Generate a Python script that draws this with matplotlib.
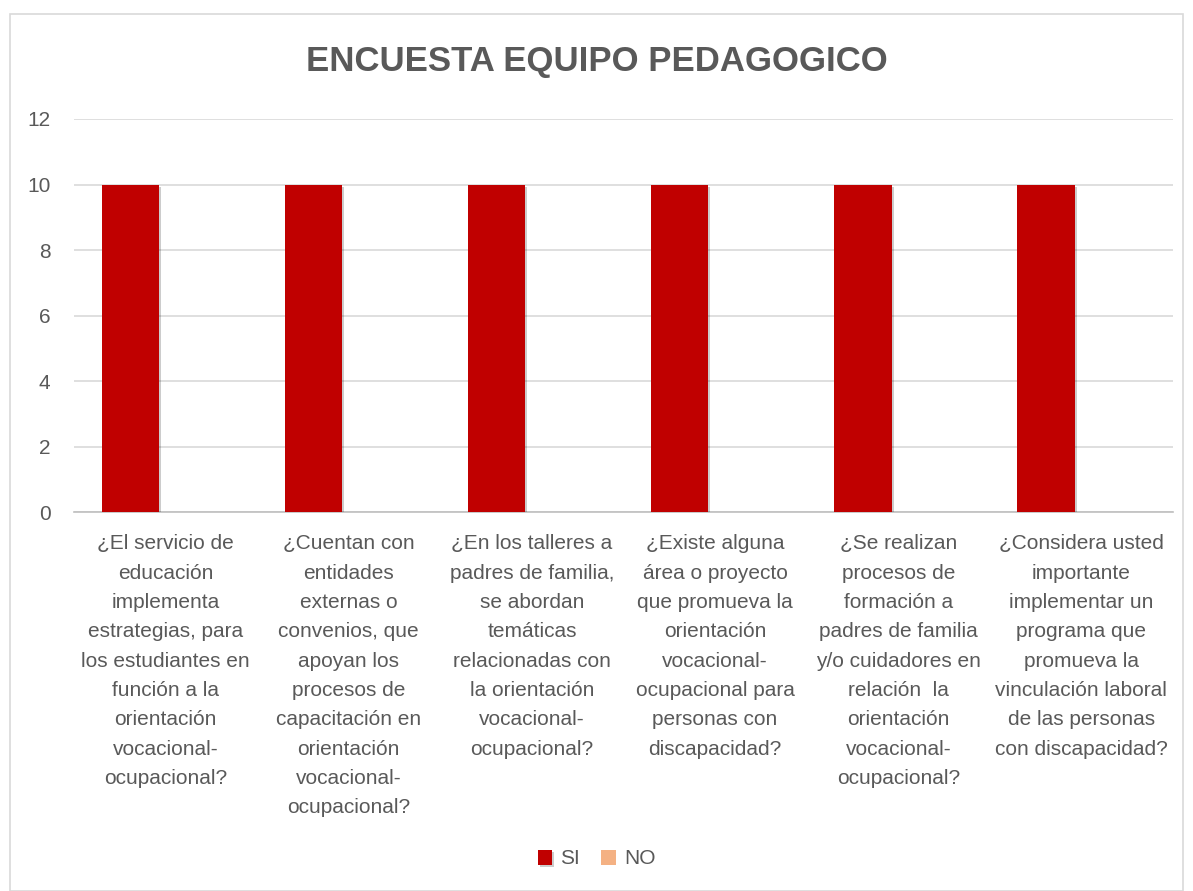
import numpy as np
import matplotlib
matplotlib.use('Agg')
from matplotlib import pyplot as plt
from matplotlib import patches
from matplotlib import patheffects as pe

plt.rcParams['font.family'] = ['Liberation Sans', 'DejaVu Sans']

#chart data
categories = [
	'¿El servicio de\neducación\nimplementa\nestrategias, para\nlos estudiantes en\nfunción a la\norientación\nvocacional-\nocupacional?',
	'¿Cuentan con\nentidades\nexternas o\nconvenios, que\napoyan los\nprocesos de\ncapacitación en\norientación\nvocacional-\nocupacional?',
	'¿En los talleres a\npadres de familia,\nse abordan\ntemáticas\nrelacionadas con\nla orientación\nvocacional-\nocupacional?',
	'¿Existe alguna\nárea o proyecto\nque promueva la\norientación\nvocacional-\nocupacional para\npersonas con\ndiscapacidad?',
	'¿Se realizan\nprocesos de\nformación a\npadres de familia\ny/o cuidadores en\nrelación  la\norientación\nvocacional-\nocupacional?',
	'¿Considera usted\nimportante\nimplementar un\nprograma que\npromueva la\nvinculación laboral\nde las personas\ncon discapacidad?',
]
si_values = [10, 10, 10, 10, 10, 10]
no_values = [0, 0, 0, 0, 0, 0]

gray = '#595959'
fig = plt.figure(figsize=(11.93, 8.91), dpi=100)
ax = fig.add_axes([74/1193, 1-512/891, (1173-74)/1193, (512-119)/891])

x = np.arange(len(categories))
w = 0.313
shadow = [pe.SimplePatchShadow(offset=(1.5, -1.5), shadow_rgbFace='#000000', alpha=0.2), pe.Normal()]
b1 = ax.bar(x - 0.193, si_values, w, color='#C00000', label='SI', zorder=3)
b2 = ax.bar(x - 0.193 + w, no_values, w, color='#F4B183', label='NO', zorder=3)
for b in b1:
	b.set_path_effects(shadow)

ax.set_xlim(-0.5, len(categories) - 0.5)
ax.set_ylim(0, 12)
ax.set_yticks([0, 2, 4, 6, 8, 10, 12])
ax.yaxis.grid(True, color='#D9D9D9', linewidth=1.2, zorder=0)
ax.set_axisbelow(True)
for s in ['top', 'right', 'left']:
	ax.spines[s].set_visible(False)
ax.spines['bottom'].set_color('#BFBFBF')
ax.spines['bottom'].set_linewidth(1.2)
ax.tick_params(axis='both', length=0, colors=gray, labelsize=15)
ax.tick_params(axis='y', pad=17)
ax.set_xticks(x)
ax.set_xticklabels(categories, fontsize=15, color=gray, va='top', linespacing=1.69)
ax.tick_params(axis='x', pad=16)

fig.text(0.5, 1-62/891, 'ENCUESTA EQUIPO PEDAGOGICO', ha='center', va='center',
	fontsize=25, fontweight='bold', color=gray)

leg = fig.legend(handles=[b1, b2], labels=['SI', 'NO'], loc='center', bbox_to_anchor=(0.5, 1-859/891),
	ncol=2, frameon=False, fontsize=15, handlelength=0.7, handleheight=0.7, columnspacing=1.0, handletextpad=0.4)
for t in leg.get_texts():
	t.set_color(gray)

fig.patches.append(patches.Rectangle((10/1193, 0.0), 1173/1193, 1-14/891, transform=fig.transFigure,
	fill=False, edgecolor='#D9D9D9', linewidth=1.2))

fig.savefig('out.png', dpi=100, facecolor='white')
